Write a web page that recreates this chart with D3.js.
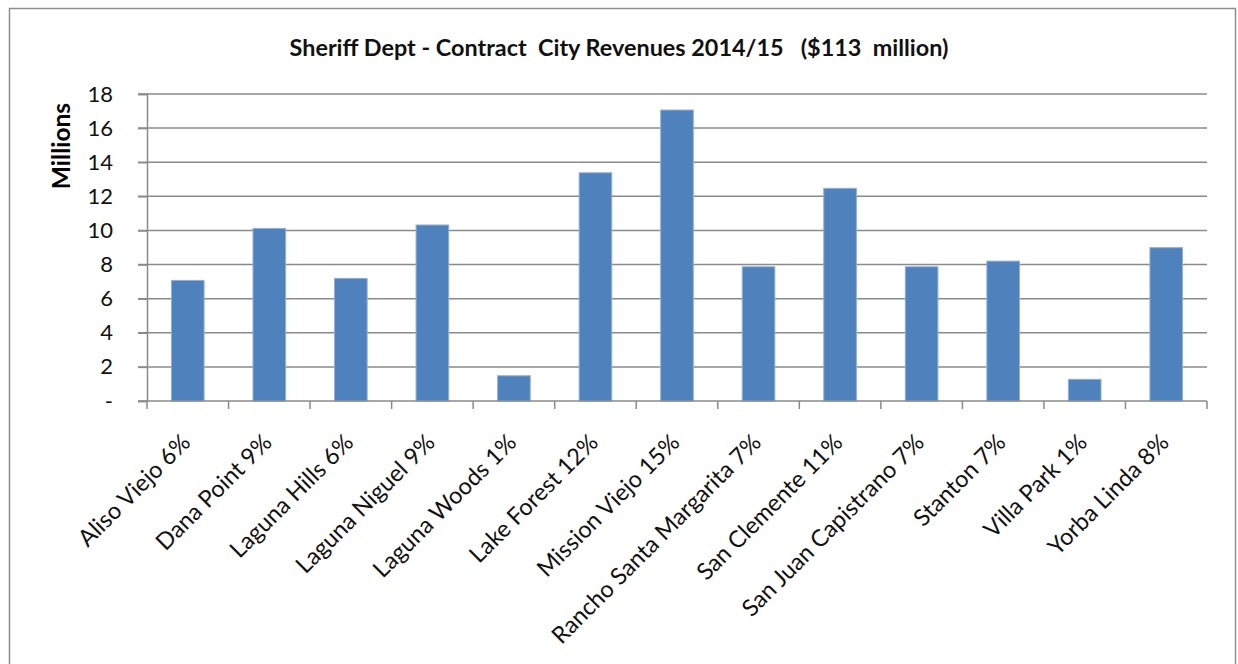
<!DOCTYPE html>
<html>
<head>
<meta charset="utf-8">
<script src="https://cdn.jsdelivr.net/npm/d3@7"></script>
<style>
  html, body { margin: 0; padding: 0; background: #fff; }
  svg { display: block; font-family: Lato, "Liberation Sans", sans-serif; }
</style>
</head>
<body>
<svg id="chart" width="1238" height="664"></svg>
<script>
// Contract city revenues, fiscal year 2014/15 (millions of dollars)
const cities = [
  "Aliso Viejo 6%", "Dana Point 9%", "Laguna Hills 6%", "Laguna Niguel 9%",
  "Laguna Woods 1%", "Lake Forest 12%", "Mission Viejo 15%",
  "Rancho Santa Margarita 7%", "San Clemente 11%", "San Juan Capistrano 7%",
  "Stanton 7%", "Villa Park 1%", "Yorba Linda 8%"
];
const revenues = [7.07, 10.12, 7.19, 10.32, 1.48, 13.38, 17.06, 7.87, 12.47, 7.87, 8.2, 1.27, 8.99];
const yTicks = [0, 2, 4, 6, 8, 10, 12, 14, 16, 18];
const yTickLabels = ["-", "2", "4", "6", "8", "10", "12", "14", "16", "18"];

const svg = d3.select("#chart");
const plot = { left: 147, right: 1207, top: 94, bottom: 401 };

// outer chart frame
svg.append("rect")
  .attr("x", 9.5).attr("y", 8.5)
  .attr("width", 1226).attr("height", 700)
  .attr("fill", "#fff").attr("stroke", "#8e8e8e").attr("stroke-width", 1.5);

const x = d3.scaleBand()
  .domain(cities)
  .range([plot.left, plot.right])
  .paddingInner(0.6)
  .paddingOuter(0.3);

const y = d3.scaleLinear()
  .domain([0, 18])
  .range([plot.bottom, plot.top]);

const gridColor = "#8a8a8a";

// horizontal gridlines
svg.append("g")
  .selectAll("line")
  .data(yTicks.filter(d => d > 0))
  .join("line")
  .attr("x1", plot.left - 9).attr("x2", plot.right)
  .attr("y1", d => y(d)).attr("y2", d => y(d))
  .attr("stroke", gridColor).attr("stroke-width", 1.5);

// y axis
const yAxis = svg.append("g")
  .attr("transform", `translate(${plot.left},0)`)
  .call(d3.axisLeft(y).tickValues(yTicks).tickSize(9).tickPadding(25)
    .tickFormat((d, i) => yTickLabels[i]));
yAxis.select(".domain").attr("stroke", gridColor).attr("stroke-width", 1.5);
yAxis.selectAll(".tick line").attr("stroke", gridColor).attr("stroke-width", 1.5);
yAxis.selectAll(".tick text")
  .attr("font-size", 22).attr("fill", "#111")
  .attr("font-family", "Lato, 'Liberation Sans', sans-serif");

// bars
svg.append("g")
  .selectAll("rect")
  .data(cities.map((c, i) => ({ city: c, value: revenues[i] })))
  .join("rect")
  .attr("x", d => x(d.city))
  .attr("y", d => y(d.value))
  .attr("width", x.bandwidth())
  .attr("height", d => y(0) - y(d.value))
  .attr("fill", "#4f81bd")
  .attr("stroke", "#8fb0d8").attr("stroke-width", 1);

// x axis with boundary ticks between categories
const step = x.step();
const boundaries = d3.range(cities.length + 1).map(i => plot.left + i * step);
const xg = svg.append("g");
xg.append("line")
  .attr("x1", plot.left - 9).attr("x2", plot.right)
  .attr("y1", plot.bottom).attr("y2", plot.bottom)
  .attr("stroke", gridColor).attr("stroke-width", 1.5);
xg.selectAll("line.tick")
  .data(boundaries)
  .join("line")
  .attr("class", "tick")
  .attr("x1", d => d).attr("x2", d => d)
  .attr("y1", plot.bottom).attr("y2", plot.bottom + 8)
  .attr("stroke", gridColor).attr("stroke-width", 1.5);

// rotated category labels
xg.selectAll("text")
  .data(cities)
  .join("text")
  .attr("transform", d => `translate(${x(d) + x.bandwidth() / 2 + 4},${plot.bottom + 43}) rotate(-45)`)
  .attr("text-anchor", "end")
  .attr("font-size", 23.5)
  .attr("fill", "#111")
  .text(d => d);

// y axis title
svg.append("text")
  .attr("transform", `translate(70,146) rotate(-90)`)
  .attr("text-anchor", "middle")
  .attr("font-size", 24.5)
  .attr("font-weight", "bold")
  .attr("fill", "#000")
  .text("Millions");

// chart title
svg.append("text")
  .attr("x", 619).attr("y", 56)
  .attr("text-anchor", "middle")
  .attr("font-size", 23.4)
  .attr("font-weight", "bold")
  .attr("fill", "#111")
  .attr("xml:space", "preserve")
  .style("white-space", "pre")
  .text("Sheriff Dept - Contract  City Revenues 2014/15   ($113  million)");
</script>
</body>
</html>
